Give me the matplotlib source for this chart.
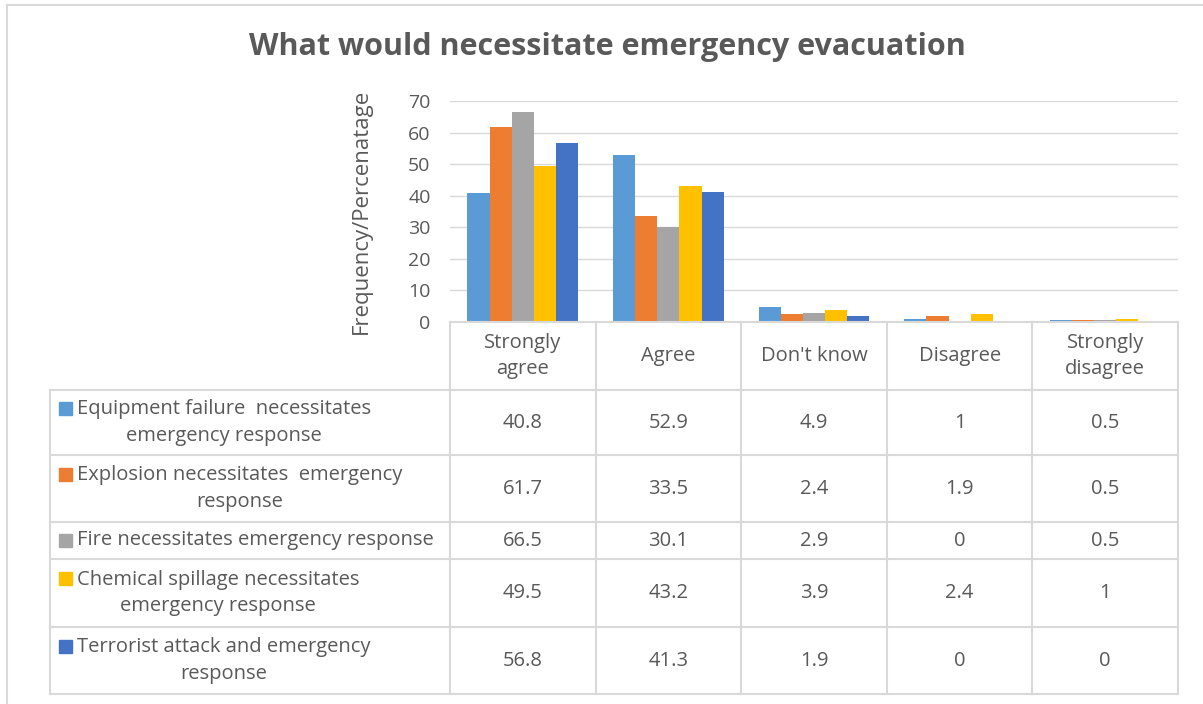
import numpy as np
import matplotlib.pyplot as plt
from matplotlib.lines import Line2D
from matplotlib.patches import Rectangle
import matplotlib.transforms as mtransforms

plt.rcParams['font.family'] = ['Open Sans', 'DejaVu Sans']

categories = ["Strongly\nagree", "Agree", "Don't know", "Disagree", "Strongly\ndisagree"]
series_names = [
    "Equipment failure  necessitates\nemergency response",
    "Explosion necessitates  emergency\nresponse",
    "Fire necessitates emergency response",
    "Chemical spillage necessitates\nemergency response",
    "Terrorist attack and emergency\nresponse",
]
equipment = [40.8, 52.9, 4.9, 1, 0.5]
explosion = [61.7, 33.5, 2.4, 1.9, 0.5]
fire = [66.5, 30.1, 2.9, 0, 0.5]
chemical = [49.5, 43.2, 3.9, 2.4, 1]
terrorist = [56.8, 41.3, 1.9, 0, 0]
series = [equipment, explosion, fire, chemical, terrorist]
colors = ["#5B9BD5", "#ED7D31", "#A5A5A5", "#FFC000", "#4472C4"]

W, H = 1203, 704
text_c = "#595959"
grid_c = "#D9D9D9"
fs = 14.5

fig = plt.figure(figsize=(W / 100, H / 100), dpi=100)

def fx(px):
    return px / W

def fy(py):
    return 1 - py / H

# plot area: pixel box of the bar chart
left, right, top, bottom = 450, 1178, 101, 322
ax = fig.add_axes([fx(left), fy(bottom), fx(right - left), (bottom - top) / H])

x = np.arange(len(categories))
bw = 0.152
for i, vals in enumerate(series):
    ax.bar(x + (i - 2) * bw, vals, width=bw, color=colors[i], zorder=3)

ax.set_xlim(-0.5, len(categories) - 0.5)
ax.set_ylim(0, 70)
ax.set_yticks(np.arange(0, 71, 10))
ax.set_xticks([])
ax.grid(axis='y', color=grid_c, lw=1, zorder=0)
for s in ax.spines.values():
    s.set_visible(False)
ax.tick_params(axis='y', length=0, pad=14, labelsize=14, labelcolor=text_c)
ax.set_ylabel("Frequency/Percenatage", fontsize=16, color=text_c)
ax.yaxis.set_label_coords((372 - left) / (right - left), 0.5)

fig.text(0.505, fy(47), "What would necessitate emergency evacuation",
         ha='center', va='center', fontsize=22, fontweight='bold', color=text_c)

# data table below the plot area
rows_px = [322, 390, 455, 522, 559, 627, 694]
table_left = 50

def hline(y0, x0, x1):
    fig.add_artist(Line2D([fx(x0), fx(x1)], [fy(y0), fy(y0)], color=grid_c, lw=1.5))

def vline(xp, y0, y1):
    fig.add_artist(Line2D([fx(xp), fx(xp)], [fy(y0), fy(y1)], color=grid_c, lw=1.5))

hline(rows_px[0], left, right)
for r in rows_px[1:]:
    hline(r, table_left, right)
vline(table_left, rows_px[1], rows_px[-1])
for k in range(len(categories) + 1):
    xp = left + k * (right - left) / len(categories)
    vline(xp, rows_px[0], rows_px[-1])

trans = mtransforms.blended_transform_factory(ax.transData, fig.transFigure)
for j, cat in enumerate(categories):
    ax.text(j, fy((rows_px[0] + rows_px[1]) / 2), cat, transform=trans,
            ha='center', va='center', fontsize=fs, color=text_c,
            linespacing=1.45, clip_on=False)

for i, vals in enumerate(series):
    yc = fy((rows_px[i + 1] + rows_px[i + 2]) / 2)
    for j, v in enumerate(vals):
        ax.text(j, yc, f"{v:g}", transform=trans, ha='center', va='center',
                fontsize=fs, color=text_c, clip_on=False)
    nlines = series_names[i].count("\n") + 1
    fig.text(fx(77), yc, series_names[i], ha='left', va='center',
             multialignment='center', fontsize=fs, color=text_c,
             linespacing=1.45)
    key_y = yc + (0.5 * (nlines - 1) * 29) / H
    fig.add_artist(Rectangle((fx(59), key_y - 6.5 / H), 13 / W, 13 / H,
                             color=colors[i], transform=fig.transFigure))

# chart frame
fig.add_artist(Line2D([fx(7), fx(W)], [fy(4.5), fy(4.5)], color=grid_c, lw=1.5))
fig.add_artist(Line2D([fx(7), fx(7)], [fy(4.5), 0], color=grid_c, lw=1.5))

fig.savefig("out.png", dpi=100, facecolor='white')
